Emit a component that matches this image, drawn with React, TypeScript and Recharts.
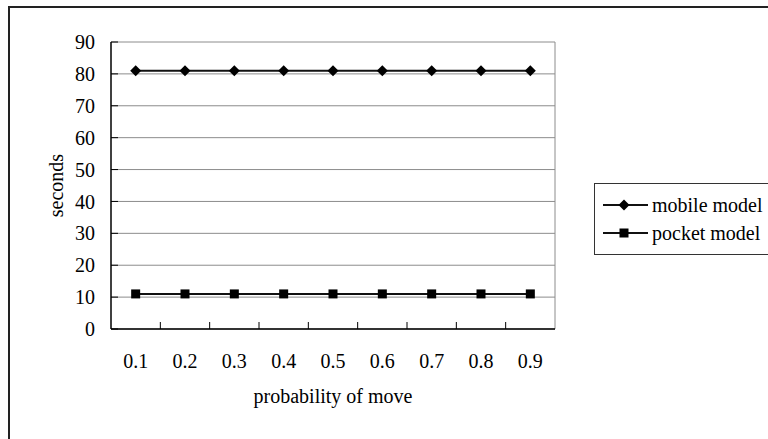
import React from "react";
import {
  LineChart,
  Line,
  XAxis,
  YAxis,
  CartesianGrid,
  Legend,
} from "recharts";

const probabilities = ["0.1", "0.2", "0.3", "0.4", "0.5", "0.6", "0.7", "0.8", "0.9"];
const mobileModel = [81, 81, 81, 81, 81, 81, 81, 81, 81];
const pocketModel = [11, 11, 11, 11, 11, 11, 11, 11, 11];
const yTicks = [0, 10, 20, 30, 40, 50, 60, 70, 80, 90];

const data = probabilities.map((p, i) => ({
  p,
  mobile: mobileModel[i],
  pocket: pocketModel[i],
}));

const FONT = "'Liberation Serif', 'Times New Roman', serif";
const X_TICK_GAP = 25;

const Diamond = (props: any) => {
  const { cx, cy, index } = props;
  if (cx == null || cy == null) return null;
  return (
    <path
      key={`d-${index}`}
      d={`M${cx},${cy - 5.5} L${cx + 5.5},${cy} L${cx},${cy + 5.5} L${cx - 5.5},${cy} Z`}
      fill="#000"
    />
  );
};

const Square = (props: any) => {
  const { cx, cy, index } = props;
  if (cx == null || cy == null) return null;
  return <rect key={`s-${index}`} x={cx - 4.5} y={cy - 4.5} width={9} height={9} fill="#000" />;
};

// labels at band centres, tick marks on the band borders (pointing inward)
const XTick = (props: any) => {
  const { x, y, payload, index, width } = props;
  const band = (width || 444) / probabilities.length;
  const axisY = y - X_TICK_GAP;
  return (
    <g>
      <text
        x={x}
        y={y}
        dy="0.71em"
        textAnchor="middle"
        fill="#000"
        fontSize={20}
        fontFamily={FONT}
      >
        {payload.value}
      </text>
      {index > 0 && (
        <line
          x1={x - band / 2}
          x2={x - band / 2}
          y1={axisY}
          y2={axisY - 7}
          stroke="#000"
          strokeWidth={1}
        />
      )}
    </g>
  );
};

const renderLegend = () => {
  const items = [
    { label: "mobile model", marker: "diamond" },
    { label: "pocket model", marker: "square" },
  ];
  return (
    <div
      style={{
        border: "1px solid #333",
        borderRightWidth: 0,
        width: 200,
        padding: "7px 0 7px 8px",
        background: "#fff",
        fontFamily: FONT,
        fontSize: 20,
        color: "#000",
      }}
    >
      {items.map((it) => (
        <div
          key={it.label}
          style={{ display: "flex", alignItems: "center", height: 28, whiteSpace: "nowrap" }}
        >
          <svg width={45} height={12} style={{ marginRight: 4 }}>
            <line x1={0} x2={45} y1={6} y2={6} stroke="#111" strokeWidth={2} />
            {it.marker === "diamond" ? (
              <path d="M21,0.5 L26.5,6 L21,11.5 L15.5,6 Z" fill="#000" />
            ) : (
              <rect x={16.5} y={1.5} width={9} height={9} fill="#000" />
            )}
          </svg>
          <span>{it.label}</span>
        </div>
      ))}
    </div>
  );
};

export default function App() {
  return (
    <div
      style={{
        position: "absolute",
        left: 0,
        top: 0,
        width: 768,
        height: 439,
        overflow: "hidden",
        background: "#fff",
      }}
    >
      <div
        style={{
          position: "absolute",
          left: 8,
          top: 6,
          width: 900,
          height: 600,
          border: "2px solid #222",
        }}
      />
      <div style={{ position: "absolute", left: 0, top: 0 }}>
        <LineChart
          width={768}
          height={439}
          data={data}
          margin={{ top: 42, right: 213, bottom: 30, left: 0 }}
        >
          <CartesianGrid
            stroke="#8c8c8c"
            strokeWidth={1}
            verticalCoordinatesGenerator={({ offset }: any) => [offset.left + offset.width]}
          />
          <XAxis
            dataKey="p"
            scale="band"
            height={80}
            axisLine={{ stroke: "#000", strokeWidth: 1.5 }}
            tickLine={false}
            tickSize={0}
            tickMargin={X_TICK_GAP}
            interval={0}
            tick={<XTick />}
            label={{
              value: "probability of move",
              position: "insideBottom",
              offset: 6,
              fill: "#000",
              fontSize: 20,
              fontFamily: FONT,
            }}
          />
          <YAxis
            width={111}
            domain={[0, 90]}
            ticks={yTicks}
            interval={0}
            axisLine={{ stroke: "#000", strokeWidth: 1.5 }}
            tickLine={{ stroke: "#000" }}
            tickSize={-7}
            tickMargin={23}
            tick={{ fill: "#000", fontSize: 20, fontFamily: FONT }}
            label={{
              value: "seconds",
              angle: -90,
              position: "center",
              fill: "#000",
              fontSize: 20,
              fontFamily: FONT,
            }}
          />
          <Legend
            layout="vertical"
            align="center"
            verticalAlign="middle"
            content={renderLegend}
            wrapperStyle={{ position: "absolute", left: 594, top: 183, width: 200 }}
          />
          <Line
            dataKey="mobile"
            name="mobile model"
            stroke="#111"
            strokeWidth={2}
            dot={<Diamond />}
            activeDot={false}
            isAnimationActive={false}
          />
          <Line
            dataKey="pocket"
            name="pocket model"
            stroke="#111"
            strokeWidth={2}
            dot={<Square />}
            activeDot={false}
            isAnimationActive={false}
          />
        </LineChart>
      </div>
    </div>
  );
}
